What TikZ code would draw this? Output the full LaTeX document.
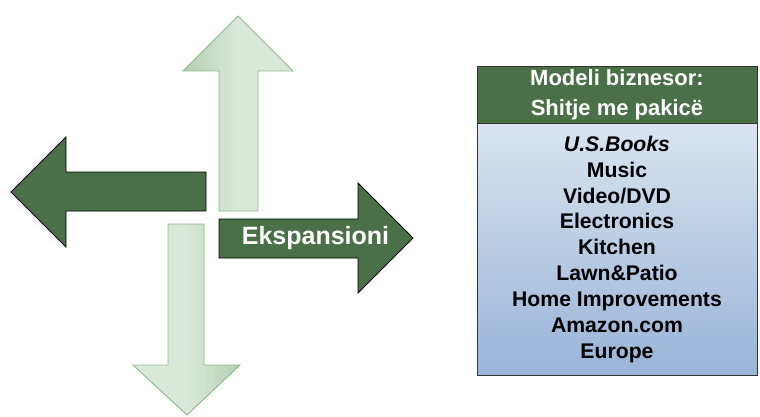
\documentclass[tikz,border=0pt]{standalone}
\usepackage{fontspec}
\setmainfont{Liberation Sans}
\usepackage{xcolor}
\usepackage{tikz}
\usetikzlibrary{
  positioning,
  calc
}
\definecolor{dgreen}{HTML}{4A7048}
\definecolor{lgreenA}{HTML}{B4CFB4}
\definecolor{lgreenB}{HTML}{DAE8DA}
\definecolor{lgreenE}{HTML}{8CBA8C}
\definecolor{blueT}{HTML}{DAE4F0}
\definecolor{blueB}{HTML}{98B4D8}

\begin{document}
\begin{tikzpicture}[x=1pt,y=1pt,
  darrow/.style={draw=black,fill=dgreen,line width=0.8pt},
  larrow/.style={draw=lgreenE,line width=0.9pt},
  hdr/.style={draw=black!80,fill=dgreen,text=white,align=center,inner sep=0pt,
    minimum width=280pt,minimum height=57pt,
    font=\bfseries\fontsize{22}{30}\selectfont},
  lst/.style={draw=black!80,top color=blueT,bottom color=blueB,align=center,
    inner sep=0pt,minimum width=280pt,minimum height=252pt,
    font=\bfseries\fontsize{21.2}{25.9}\selectfont}]
  \useasboundingbox (0,0) rectangle (760,416);
  % 矢印(薄)
  \draw[larrow,left color=lgreenA,right color=lgreenB,middle color=lgreenB]
    (219,205)--(258,205)--(258,345)--(293,345)--(238,400)--(183,345)--(219,345)--cycle; %上
  \draw[larrow,left color=lgreenB,right color=lgreenA,middle color=lgreenB]
    (168,192)--(204,192)--(204,51)--(240,51)--(187,1)--(133,51)--(168,51)--cycle; %下
  % 矢印(濃)
  \draw[darrow] (206,205)--(206,244)--(66,244)--(66,279)--(11,224)--(66,169)--(66,205)--cycle; %左
  \draw[darrow] (219,158)--(219,197)--(358,197)--(358,233)--(413,178)--(358,123)--(358,158)--cycle; %右
  \node[font=\bfseries\fontsize{25}{28}\selectfont,text=white] (eksp) at (315.5,178) {Ekspansioni};
  % 箱
  \node[hdr] (model) at (617,321.5) {Modeli biznesor:\\Shitje me pakicë};
  \node[lst,below=0pt of model] (lista)
    {\textit{U.S.Books}\\Music\\Video/DVD\\Electronics\\Kitchen\\Lawn\&Patio\\Home Improvements\\Amazon.com\\Europe};
\end{tikzpicture}
\end{document}
